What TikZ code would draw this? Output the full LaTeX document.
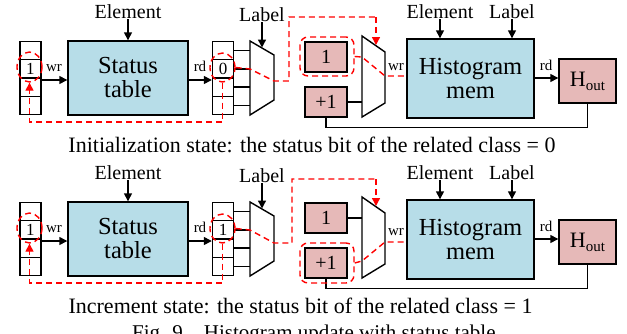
\documentclass[tikz,border=0pt]{standalone}
\usepackage{fontspec}
\setmainfont{Liberation Serif}
\usetikzlibrary{arrows.meta,shapes.geometric,calc}
\definecolor{bluefill}{HTML}{B7DDE8}
\definecolor{pinkfill}{HTML}{E6B9B8}
\tikzset{
 blk/.style={draw, line width=1.4pt, fill=bluefill, font=\fontsize{24.5}{24}\selectfont, align=center, inner sep=0},
 pk/.style={draw, line width=1.4pt, fill=pinkfill, inner sep=0, font=\fontsize{20}{20}\selectfont},
 cell/.style={draw, line width=1.4pt, minimum width=21pt, minimum height=18.3pt, inner sep=0, font=\fontsize{17}{17}\selectfont},
 wire/.style={line width=1.4pt},
 arr/.style={wire, -{Triangle[length=8pt,width=8pt]}},
 rdash/.style={red, line width=1.4pt, dash pattern=on 6pt off 4pt},
 rarr/.style={-{Triangle[length=8pt,width=8pt]}},
 lbl/.style={font=\fontsize{20}{20}\selectfont, inner sep=0},
 small/.style={font=\fontsize{15}{15}\selectfont, inner sep=0},
 captxt/.style={font=\fontsize{22}{22}\selectfont, inner sep=0},
 mux/.style={wire, fill=white, line join=miter},
}
\newcommand\commonhalf[2]{%
 \node[blk, minimum width=120pt, minimum height=74pt] (#1st) at (128,78) {Status\\table};
 \node[lbl] (#1el) at (128,12) {Element};
 \draw[arr] (#1el.south) -- (#1st.north);
 \foreach \ii/\yy/\dg in {a/50.6/,b/68.9/1,c/87.1/,d/105.4/} {\node[cell] (#1L\ii) at (30.5,\yy) {\dg};}
 \foreach \ii/\yy/\dg in {a/50.6/,b/68.9/#2,c/87.1/,d/105.4/} {\node[cell] (#1R\ii) at (223,\yy) {\dg};}
 \draw[arr] (#1Lb.east |- 0,80) -- (#1st.west |- 0,80);
 \node[small] (#1wr) at (54,68) {wr};
 \draw[arr] (#1st.east |- 0,80) -- (#1Rb.west |- 0,80);
 \node[small] (#1rd) at (200,66) {rd};
 \coordinate (#1ma) at (250,41); \coordinate (#1mb) at (274,55);
 \coordinate (#1mc) at (274,100); \coordinate (#1md) at (250,115);
 \foreach \ii in {a,b,c,d} {\draw[wire] (#1R\ii.east) -- (#1R\ii.east -| #1ma);}
 \draw[mux] (#1ma) -- (#1mb) -- (#1mc) -- (#1md) -- cycle;
 \node[lbl] (#1lb) at (262,15) {Label};
 \coordinate (#1min) at (262,47.5);
 \draw[arr] (#1lb.south) -- (#1min);
 \node[pk, minimum width=42pt, minimum height=30pt] (#1one) at (326,57) {1};
 \node[pk, minimum width=42pt, minimum height=30pt] (#1inc) at (326,102) {+1};
 \coordinate (#1na) at (362,36); \coordinate (#1nb) at (385,52);
 \coordinate (#1nc) at (385,103); \coordinate (#1nd) at (362,117);
 \node[blk, minimum width=127pt, minimum height=79pt] (#1hm) at (470.5,78.5) {Histogram\\mem};
 \node[lbl] (#1el2) at (440,12) {Element};
 \draw[arr] (#1el2.south) -- (#1el2.south |- #1hm.north);
 \node[lbl] (#1lb2) at (512,12) {Label};
 \draw[arr] (#1lb2.south) -- (#1lb2.south |- #1hm.north);
 \node[pk, minimum width=57pt, minimum height=44pt, font=\fontsize{22}{22}\selectfont] (#1ho) at (587.5,81) {H\raisebox{-0.4ex}{\fontsize{15}{15}\selectfont out}};
 \draw[arr] (#1hm.east |- 0,78) -- (#1ho.west |- 0,78);
 \node[small] (#1rd2) at (546,65) {rd};
 \draw[wire] (#1ho.south) -- ++(0,24) -| (#1inc.south);
 \node[draw, rdash, ellipse, minimum width=25pt, minimum height=30pt, inner sep=0] (#1EL) at (29.5,67) {};
 \node[draw, rdash, ellipse, minimum width=25pt, minimum height=29pt, inner sep=0] (#1ER) at (222.5,67.5) {};
 \coordinate (#1low) at (29.5,122);
 \draw[rdash, rarr] (#1ER.south) |- (#1low) -- (#1EL.south);
}
\begin{document}
\begin{tikzpicture}[x=1pt,y=-1pt]
\useasboundingbox (0,0) rectangle (627,333);
\clip (0,0) rectangle (627,333);
% ---------- top half ----------
\commonhalf{t}{0}
\draw[wire] (tinc.east) -- (tinc.east -| tna);
\draw[mux] (tna) -- (tnb) -- (tnc) -- (tnd) -- cycle;
\node[draw, rdash, rounded corners=8pt, minimum width=54pt, minimum height=39pt] (tR1) at (327,56.5) {};
\coordinate (tnin) at (376,45);
\draw[rdash] (tER.east) -- (250,69) -- (274,81) -- (289,81) -- (289,17) -- (376,17);
\draw[rdash, rarr] (376,17) -- (tnin);
\draw[rdash] (tR1.east) -- (362,57) -- (385,76) -- (thm.west |- 0,76);
\node[small] (twr2) at (396,67) {wr};
\node[captxt] (tcap) at (312,145) {Initialization state: the status bit of the related class = 0};
% ---------- bottom half ----------
\begin{scope}[yshift=-161pt]
\commonhalf{b}{1}
\draw[wire] (bone.east) -- (bone.east -| bna);
\draw[mux] (bna) -- (bnb) -- (bnc) -- (bnd) -- cycle;
\node[draw, rdash, rounded corners=8pt, minimum width=54pt, minimum height=40pt] (bR2) at (327,102) {};
\coordinate (bnin) at (376,45);
\draw[rdash] (bER.east) -- (250,69) -- (274,82) -- (292,82) -- (292,18) -- (376,18);
\draw[rdash, rarr] (376,18) -- (bnin);
\draw[rdash] (bR2.east) -- (362,100) -- (385,81) -- (bhm.west |- 0,81);
\node[small] (bwr2) at (396,71) {wr};
\node[captxt] (bcap) at (300.5,145) {Increment state: the status bit of the related class = 1};
\end{scope}
\node[font=\fontsize{21}{21}\selectfont, inner sep=0, anchor=base west] (fig) at (132,339) {Fig. 9.\ \ \ Histogram update with status table};
\end{tikzpicture}
\end{document}
